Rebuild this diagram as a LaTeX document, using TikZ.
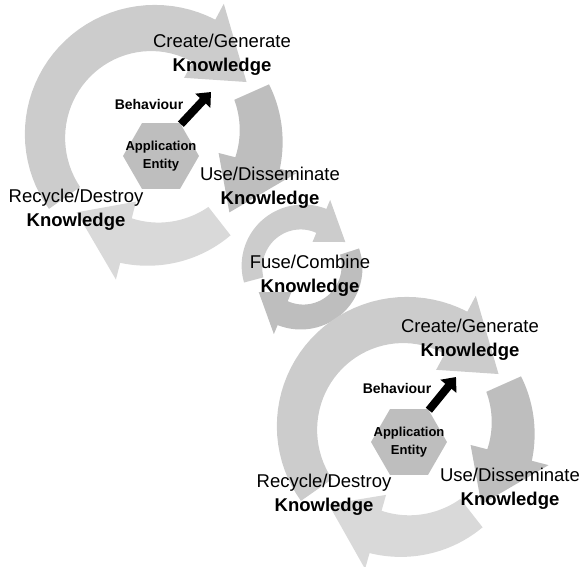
\documentclass[tikz,border=0pt]{standalone}
\usepackage{fontspec}
\setmainfont{Liberation Sans}
\usepackage{tikz}
\usetikzlibrary{shapes.geometric,arrows.meta,positioning}

\definecolor{arclight}{HTML}{CCCCCC}
\definecolor{arcmid}{HTML}{BEBEBE}
\definecolor{arcpale}{HTML}{D9D9D9}

\tikzstyle{stage} = [align=center, font=\fontsize{18.5}{24}\selectfont, inner sep=0pt]
\tikzstyle{hexa} = [regular polygon, regular polygon sides=6, minimum size=76pt, inner sep=0pt, fill=arcmid]
\tikzstyle{entity} = [align=center, font=\fontsize{13}{18}\selectfont\bfseries, inner sep=0pt]
\tikzstyle{behave} = [font=\fontsize{14}{16}\selectfont\bfseries, inner sep=0pt]
\tikzstyle{act} = [line width=8pt, -{Triangle[length=12pt,width=20pt]}]

% curved cycle arrow: colour, radius, tail angle, tip angle, tail half width, head half width
\newcommand{\arcarrow}[6]{%
  \pgfmathsetmacro{\arrlen}{2.5*#6/#2*57.3*sign(#4-(#3))}
  \pgfmathsetmacro{\arrbase}{#4-\arrlen}
  \fill[#1] plot[domain=#3:\arrbase,samples=40] (\x:{#2+#5+(#6-#5)*(\x-(#3))/(\arrbase-(#3))})
    -- (\arrbase:{#2+1.75*#6}) -- (#4:#2) -- (\arrbase:{#2-1.75*#6})
    -- plot[domain=\arrbase:#3,samples=40] (\x:{#2-#5-(#6-#5)*(\x-(#3))/(\arrbase-(#3))}) -- cycle;
}

\begin{document}
\begin{tikzpicture}[x=1pt,y=1pt]
\useasboundingbox (0,0) rectangle (584,-566);

%% CYCLE ONE - arrows
\begin{scope}[shift={(153,-136)}]
\arcarrow{arclight}{108}{215}{30}{19}{24}
\arcarrow{arcmid}{108}{24}{-45}{19}{23}
\arcarrow{arcpale}{108}{-52}{-135}{18}{23}
\end{scope}

%% FUSE - arrows
\begin{scope}[shift={(302,-267)}]
\arcarrow{arclight}{50}{195}{30}{10}{13}
\arcarrow{arcmid}{50}{18}{-150}{10}{13}
\end{scope}

%% CYCLE TWO - arrows
\begin{scope}[shift={(405,-428)}]
\arcarrow{arclight}{108}{215}{30}{19}{24}
\arcarrow{arcmid}{108}{24}{-45}{19}{23}
\arcarrow{arcpale}{108}{-52}{-135}{18}{22}
\end{scope}

% cycle one
\node[hexa] (hex1) at (161,-156) {};
\node[entity] (app1) at (hex1) {Application\\Entity};
\node[stage] (create1) at (222,-55) {Create/Generate\\\textbf{Knowledge}};
\node[stage] (use1) at (270,-188) {Use/Disseminate\\\textbf{Knowledge}};
\node[stage] (recycle1) at (76,-210) {Recycle/Destroy\\\textbf{Knowledge}};
\node[behave] (beh1) at (149,-104) {Behaviour};
\coordinate (tip1) at (211,-92);
\draw[act] (hex1.58) -- (tip1);

% fuse
\node[stage] (fuse) at (310,-276) {Fuse/Combine\\\textbf{Knowledge}};

% cycle two
\node[hexa] (hex2) at (409,-442) {};
\node[entity] (app2) at (hex2) {Application\\Entity};
\node[stage] (create2) at (470,-340) {Create/Generate\\\textbf{Knowledge}};
\node[stage] (use2) at (510,-489) {Use/Disseminate\\\textbf{Knowledge}};
\node[stage] (recycle2) at (324,-495) {Recycle/Destroy\\\textbf{Knowledge}};
\node[behave] (beh2) at (397,-388) {Behaviour};
\coordinate (tip2) at (456,-377);
\draw[act] (hex2.58) -- (tip2);
\end{tikzpicture}
\end{document}
